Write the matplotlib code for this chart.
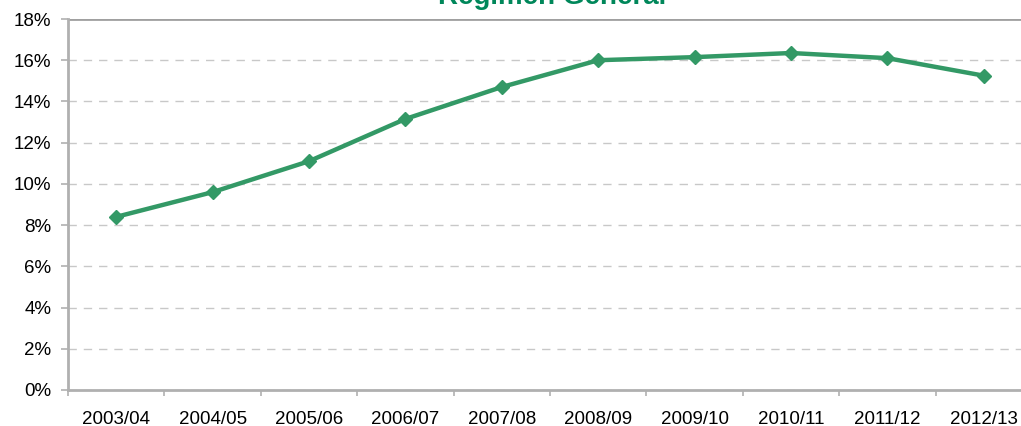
import matplotlib
matplotlib.use("Agg")
import matplotlib.pyplot as plt
from matplotlib.ticker import FuncFormatter, FixedLocator

# data
periods = ["2003/04", "2004/05", "2005/06", "2006/07", "2007/08",
           "2008/09", "2009/10", "2010/11", "2011/12", "2012/13"]
share = [8.4, 9.6, 11.1, 13.15, 14.7, 16.0, 16.15, 16.35, 16.1, 15.25]

title = "Régimen General"
line_color = "#339966"
title_color = "#00875a"
spine_color = "#b0b0b0"

plt.rcParams['font.family'] = ['Liberation Sans', 'DejaVu Sans']

fig = plt.figure(figsize=(10.21, 4.26), dpi=100)
W, H = 1021, 426
# plot area in pixels: left 68, right ~1032 (cut off), top 19, bottom 390
ax = fig.add_axes([68 / W, 1 - 390 / H, (1032 - 68) / W, (390 - 19) / H])

x = list(range(len(periods)))
ax.plot(x, share, color=line_color, lw=3.2, marker="D", ms=7.5,
        markeredgecolor=line_color, zorder=3)

ax.set_xlim(-0.5, len(periods) - 0.5)
ax.set_ylim(0, 18)
ax.set_yticks(range(0, 19, 2))
ax.yaxis.set_major_formatter(FuncFormatter(lambda v, p: f"{v:.0f}%"))

ax.set_xticks(x)
ax.set_xticklabels(periods)
ax.xaxis.set_minor_locator(FixedLocator([i - 0.5 for i in range(len(periods) + 1)]))
ax.tick_params(axis="x", which="major", length=0, pad=15, labelsize=13.5)
ax.tick_params(axis="x", which="minor", length=4, color=spine_color, width=1.2)
ax.tick_params(axis="y", length=5, color=spine_color, width=1.2, labelsize=13.5, pad=7)

ax.grid(axis="y", color="#c8c8c8", ls=(0, (6, 5)), lw=1)
ax.axhline(18, color="#a0a0a0", lw=2, zorder=2)

for side in ["left", "bottom"]:
    ax.spines[side].set_color(spine_color)
    ax.spines[side].set_linewidth(2)
ax.spines["top"].set_visible(False)
ax.spines["right"].set_visible(False)

fig.text(552 / W, 1 - 4 / H, title, color=title_color, fontsize=20,
         fontweight="bold", ha="center", va="baseline")

fig.savefig("out.png", dpi=100)
